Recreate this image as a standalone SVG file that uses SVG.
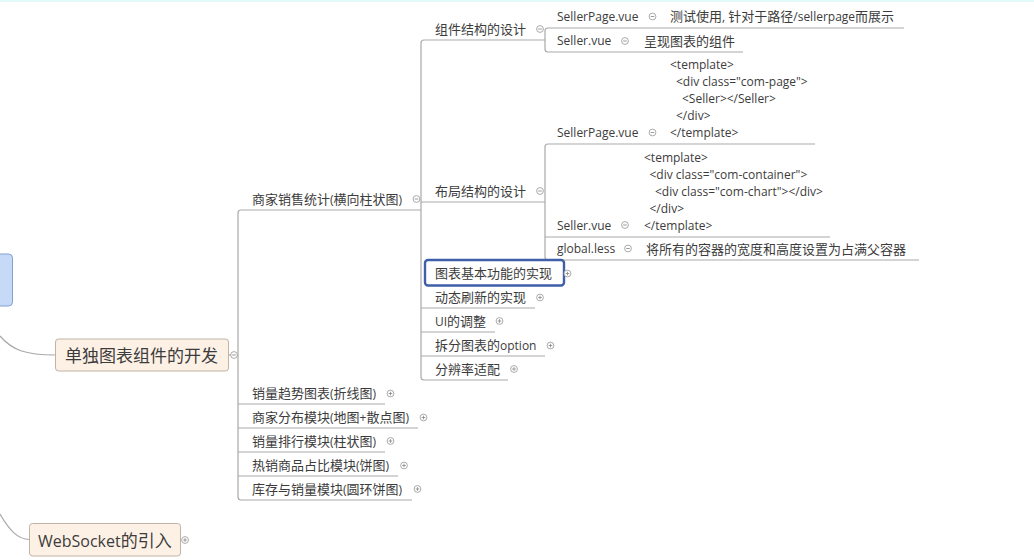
<svg xmlns="http://www.w3.org/2000/svg" xmlns:xlink="http://www.w3.org/1999/xlink" width="1034" height="560" viewBox="0 0 1034 560">
<style>
.ln{fill:none;stroke:#a9a9a9;stroke-width:1.2}
.t{font-family:"Open Sans","Noto Sans CJK SC",sans-serif;font-size:12px;fill:#3c3c3c}
.cj{font-size:13px}
.big{font-size:17px}
.big16{font-size:16px}
.node{fill:#fdf1e6;stroke:#bfb3a6;stroke-width:1}
.tog circle{fill:#fff;stroke:#a0a0a0;stroke-width:0.9}
.tog line{stroke:#909090;stroke-width:0.9}
</style>
<defs>
<g id="minus" class="tog"><circle cx="0" cy="0" r="3.4"/><line x1="-1.8" y1="0" x2="1.8" y2="0"/></g>
<g id="plus" class="tog"><circle cx="0" cy="0" r="3.4"/><line x1="-1.8" y1="0" x2="1.8" y2="0"/><line x1="0" y1="-1.8" x2="0" y2="1.8"/></g>
</defs>
<rect x="0" y="0" width="1034" height="560" fill="#ffffff"/>
<rect x="0" y="0" width="1034" height="2" fill="#e4fafa"/>

<g id="connectors">
<path class="ln" d="M0,336 C12,350 25,355 55.5,355"/>
<path class="ln" d="M0,514 C10,531 18,539.5 29.5,539.5"/>
<path class="ln" d="M229,355 L238,355"/>
<path class="ln" d="M421,210 L241,210 Q238,210 238,213 L238,497 Q238,500 241,500 L412,500"/>
<path class="ln" d="M238,404 L385,404 M238,428 L418,428 M238,452 L385,452 M238,476 L398,476"/>
<path class="ln" d="M545,40 L424,40 Q421,40 421,43 L421,377 Q421,380 424,380 L508,380"/>
<path class="ln" d="M421,202 L545,202 M421,308 L535,308 M421,332 L495,332 M421,356 L545,356"/>
<path class="ln" d="M904,28 L548,28 Q545,28 545,31 L545,49 Q545,52 548,52 L743,52"/>
<path class="ln" d="M815,144 L548,144 Q545,144 545,147 L545,257 Q545,260 548,260 L919,260"/>
<path class="ln" d="M545,237 L830,237"/>
</g>

<g id="node-blue"><rect x="-10" y="254" width="22.5" height="52" rx="4" fill="#c6daf8" stroke="#7f9fd8" stroke-width="1"/></g>

<g id="node-main">
<rect class="node" x="55.5" y="339" width="173" height="32" rx="3"/>
<text class="t big" x="65" y="362">单独图表组件的开发</text>
<use href="#minus" x="234" y="355"/>
</g>

<g id="node-websocket">
<rect class="node" x="29.5" y="523.5" width="151" height="32.5" rx="3"/>
<text class="t" x="38" y="546.5"><tspan class="big16">WebSocket</tspan><tspan class="big">的引入</tspan></text>
<use href="#plus" x="185" y="540"/>
</g>

<g id="node-seller-stat">
<text class="t" x="252" y="203.5"><tspan class="cj">商家销售统计</tspan>(<tspan class="cj">横向柱状图</tspan>)</text>
<use href="#minus" x="416.5" y="199"/>
</g>
<g id="node-trend">
<text class="t" x="252" y="397.5"><tspan class="cj">销量趋势图表</tspan>(<tspan class="cj">折线图</tspan>)</text>
<use href="#plus" x="390.5" y="393.5"/>
</g>
<g id="node-map">
<text class="t" x="252" y="421.5"><tspan class="cj">商家分布模块</tspan>(<tspan class="cj">地图</tspan>+<tspan class="cj">散点图</tspan>)</text>
<use href="#plus" x="423.5" y="417.5"/>
</g>
<g id="node-rank">
<text class="t" x="252" y="445.5"><tspan class="cj">销量排行模块</tspan>(<tspan class="cj">柱状图</tspan>)</text>
<use href="#plus" x="390.5" y="441"/>
</g>
<g id="node-hot">
<text class="t" x="252" y="469.5"><tspan class="cj">热销商品占比模块</tspan>(<tspan class="cj">饼图</tspan>)</text>
<use href="#plus" x="404" y="465.5"/>
</g>
<g id="node-stock">
<text class="t" x="252" y="493.5"><tspan class="cj">库存与销量模块</tspan>(<tspan class="cj">圆环饼图</tspan>)</text>
<use href="#plus" x="417.5" y="489"/>
</g>

<g id="node-comp-struct">
<text class="t cj" x="435" y="33.5">组件结构的设计</text>
<use href="#minus" x="540" y="29"/>
</g>
<g id="node-layout-struct">
<text class="t cj" x="435" y="195.5">布局结构的设计</text>
<use href="#minus" x="540" y="191"/>
</g>
<g id="node-basic">
<rect x="425" y="260" width="139" height="25.5" rx="3" fill="#ffffff" stroke="#3f5fa9" stroke-width="2.4"/>
<text class="t cj" x="435" y="278">图表基本功能的实现</text>
<use href="#plus" x="567.5" y="273.5"/>
</g>
<g id="node-refresh">
<text class="t cj" x="435" y="301.5">动态刷新的实现</text>
<use href="#plus" x="540" y="297.5"/>
</g>
<g id="node-ui">
<text class="t" x="435" y="325.5">UI<tspan class="cj">的调整</tspan></text>
<use href="#plus" x="499.5" y="321"/>
</g>
<g id="node-option">
<text class="t" x="435" y="349.5"><tspan class="cj">拆分图表的</tspan>option</text>
<use href="#plus" x="550.5" y="345.5"/>
</g>
<g id="node-resolution">
<text class="t cj" x="435" y="373.5">分辨率适配</text>
<use href="#plus" x="514" y="369"/>
</g>

<g id="node-sellerpage-1">
<text class="t" x="557" y="21">SellerPage.vue</text>
<use href="#minus" x="652.5" y="16.5"/>
<text class="t" x="670" y="21"><tspan class="cj">测试使用</tspan>, <tspan class="cj">针对于路径</tspan>/sellerpage<tspan class="cj">而展示</tspan></text>
</g>
<g id="node-seller-1">
<text class="t" x="557" y="45">Seller.vue</text>
<use href="#minus" x="625" y="41"/>
<text class="t cj" x="644" y="45.5">呈现图表的组件</text>
</g>

<g id="node-sellerpage-2">
<text class="t" x="670" y="69">&lt;template&gt;</text>
<text class="t" x="676" y="86">&lt;div class="com-page"&gt;</text>
<text class="t" x="682" y="103">&lt;Seller&gt;&lt;/Seller&gt;</text>
<text class="t" x="676" y="120">&lt;/div&gt;</text>
<text class="t" x="670" y="137">&lt;/template&gt;</text>
<text class="t" x="557" y="137">SellerPage.vue</text>
<use href="#minus" x="652.5" y="132.5"/>
</g>
<g id="node-seller-2">
<text class="t" x="644" y="161.5">&lt;template&gt;</text>
<text class="t" x="649.5" y="178.5">&lt;div class="com-container"&gt;</text>
<text class="t" x="655" y="195.5">&lt;div class="com-chart"&gt;&lt;/div&gt;</text>
<text class="t" x="649.5" y="212.5">&lt;/div&gt;</text>
<text class="t" x="644" y="229.5">&lt;/template&gt;</text>
<text class="t" x="557" y="229.5">Seller.vue</text>
<use href="#minus" x="625" y="225"/>
</g>
<g id="node-global">
<text class="t" x="557" y="253">global.less</text>
<use href="#minus" x="628" y="248.5"/>
<text class="t cj" x="646" y="253.5">将所有的容器的宽度和高度设置为占满父容器</text>
</g>
</svg>
